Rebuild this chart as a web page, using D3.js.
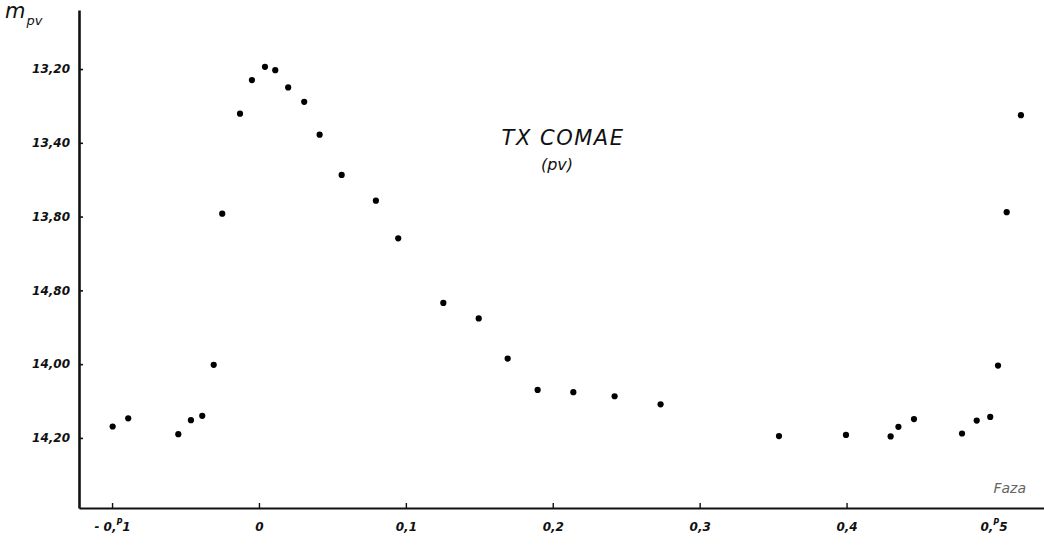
<!DOCTYPE html>
<html>
<head>
<meta charset="utf-8">
<script src="https://cdn.jsdelivr.net/npm/d3@7"></script>
<style>
  body { margin: 0; background: #fff; }
  text { font-family: "DejaVu Sans", sans-serif; }
</style>
</head>
<body>
<div id="wrapper"></div>
<script>
// phase / magnitude pairs
const phases = [
  -0.0996, -0.0890, -0.0549, -0.0463, -0.0386, -0.0308, -0.0250, -0.0129, -0.0048,
  0.0041, 0.0111, 0.0199, 0.0308, 0.0413, 0.0563, 0.0796, 0.0948, 0.1255, 0.1496,
  0.1693, 0.1897, 0.2140, 0.2421, 0.2734, 0.3540, 0.3996, 0.4300, 0.4353, 0.4459,
  0.4786, 0.4886, 0.4978, 0.5031, 0.5090, 0.5187
];
const magnitudes = [
  14.169, 14.147, 14.190, 14.152, 14.140, 14.002, 13.592, 13.321, 13.230,
  13.194, 13.203, 13.250, 13.289, 13.378, 13.487, 13.557, 13.659, 13.834, 13.876,
  13.985, 14.070, 14.076, 14.087, 14.109, 14.195, 14.192, 14.196, 14.170, 14.149,
  14.188, 14.153, 14.143, 14.004, 13.588, 13.325
];

const xTickValues = [-0.1, 0, 0.1, 0.2, 0.3, 0.4, 0.5];
const xTickLabels = [["- 0,", "P", "1"], ["0"], ["0,1"], ["0,2"], ["0,3"], ["0,4"], ["0,", "P", "5"]];
const yTickValues = [13.2, 13.4, 13.6, 13.8, 14.0, 14.2];
const yTickLabels = ["13,20", "13,40", "13,80", "14,80", "14,00", "14,20"];

function drawChart() {
  let dimensions = {
    width: 1044,
    height: 548,
    margin: { top: 10, right: 0, bottom: 40, left: 79 },
  };
  dimensions.boundedWidth = dimensions.width - dimensions.margin.left - dimensions.margin.right;
  dimensions.boundedHeight = dimensions.height - dimensions.margin.top - dimensions.margin.bottom;

  const svg = d3.select('#wrapper')
    .append('svg')
    .attr('width', dimensions.width)
    .attr('height', dimensions.height);

  const bounds = svg.append('g')
    .attr('transform', `translate(${dimensions.margin.left},${dimensions.margin.top})`);

  const data = phases.map((p, i) => ({ phase: p, mag: magnitudes[i] }));

  // axes run edge to edge, so the domain is wider than the labelled ticks
  const xScale = d3.scaleLinear()
    .domain([-0.1225, 0.5344])
    .range([0, dimensions.boundedWidth]);

  // magnitudes grow downward
  const yScale = d3.scaleLinear()
    .domain([13.04, 14.39])
    .range([0, dimensions.boundedHeight]);

  // x axis
  const xAxis = bounds.append('g')
    .attr('transform', `translate(0,${dimensions.boundedHeight})`)
    .call(d3.axisBottom(xScale)
      .tickValues(xTickValues)
      .tickSizeInner(-5)
      .tickSizeOuter(0)
      .tickPadding(14)
      .tickFormat(''));
  xAxis.select('.domain').attr('stroke', '#111').attr('stroke-width', 2.2);
  xAxis.selectAll('.tick line').attr('stroke', '#111').attr('stroke-width', 1.4)
    .filter(d => d === 0.5).remove();
  xAxis.selectAll('.tick text')
    .attr('font-size', 12)
    .attr('font-weight', 'bold')
    .attr('font-style', 'italic')
    .attr('fill', '#111')
    .each(function(d, i) {
      const parts = xTickLabels[i];
      const t = d3.select(this);
      if (parts.length === 1) {
        t.text(parts[0]);
      } else {
        t.append('tspan').text(parts[0]);
        t.append('tspan').attr('dy', -6).attr('font-size', 8).text(parts[1]);
        t.append('tspan').attr('dy', 6).text(parts[2]);
      }
    });

  // y axis
  const yAxis = bounds.append('g')
    .call(d3.axisLeft(yScale)
      .tickValues(yTickValues)
      .tickSizeInner(-4)
      .tickSizeOuter(0)
      .tickPadding(9)
      .tickFormat((d, i) => yTickLabels[i]));
  yAxis.select('.domain').attr('stroke', '#111').attr('stroke-width', 2.6);
  yAxis.selectAll('.tick line').attr('stroke', '#111').attr('stroke-width', 1.6);
  yAxis.selectAll('.tick text')
    .attr('font-size', 12)
    .attr('font-weight', 'bold')
    .attr('font-style', 'italic')
    .attr('fill', '#111');

  // observations
  bounds.append('g')
    .selectAll('circle')
    .data(data)
    .join('circle')
    .attr('cx', d => xScale(d.phase))
    .attr('cy', d => yScale(d.mag))
    .attr('r', 3.1)
    .attr('fill', '#000');

  // axis titles
  const yTitle = svg.append('text')
    .attr('x', 5)
    .attr('y', 18)
    .attr('font-size', 21)
    .attr('font-style', 'italic')
    .attr('fill', '#111');
  yTitle.append('tspan').text('m');
  yTitle.append('tspan').attr('dy', 7).attr('dx', 1).attr('font-size', 13).text('pv');

  svg.append('text')
    .attr('x', 1026)
    .attr('y', 493)
    .attr('text-anchor', 'end')
    .attr('font-size', 14)
    .attr('font-style', 'italic')
    .attr('fill', '#666')
    .text('Faza');

  // star name
  svg.append('text')
    .attr('x', 563)
    .attr('y', 145)
    .attr('text-anchor', 'middle')
    .attr('font-size', 21)
    .attr('font-style', 'italic')
    .attr('letter-spacing', 1.5)
    .attr('fill', '#111')
    .text('TX COMAE');

  svg.append('text')
    .attr('x', 557)
    .attr('y', 170)
    .attr('text-anchor', 'middle')
    .attr('font-size', 16)
    .attr('font-style', 'italic')
    .attr('fill', '#111')
    .text('(pv)');
}

drawChart();
</script>
</body>
</html>
